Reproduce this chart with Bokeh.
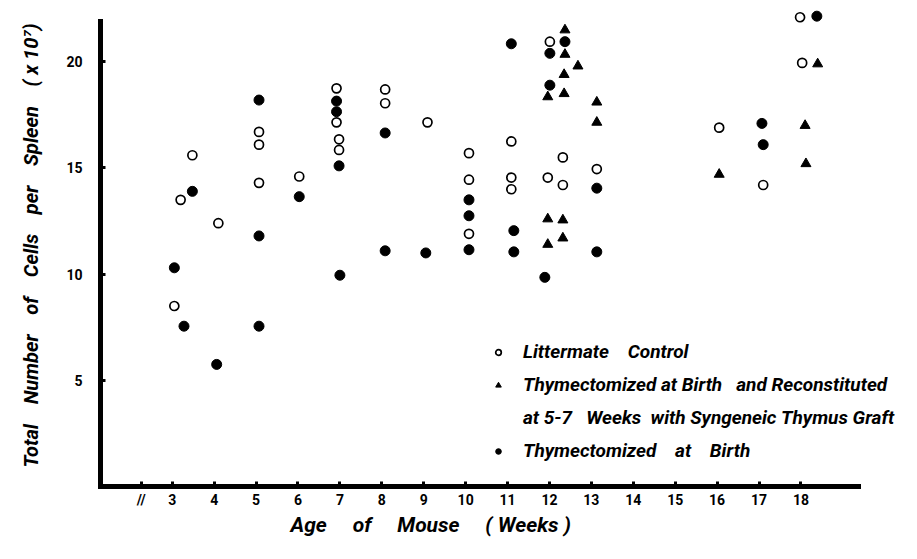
from bokeh.plotting import figure
from bokeh.models import Range1d, FixedTicker, Legend, LegendItem, Title
from bokeh.embed import file_html
from bokeh.resources import INLINE

FONT = "Roboto"
NB = "\u00a0"

# ---- data (age in weeks, total cells per spleen x 10^7) ----
control_week = [3.05, 3.2, 3.48, 4.1, 5.07, 5.07, 5.07, 6.03, 6.92, 6.92, 6.98, 6.98,
                8.08, 8.08, 9.09, 10.08, 10.08, 10.08, 11.09, 11.09, 11.09, 11.96,
                12.01, 12.32, 12.32, 13.13, 16.05, 17.1, 17.98, 18.03]
control_cells = [8.5, 13.5, 15.6, 12.4, 16.7, 16.1, 14.3, 14.6, 18.75, 17.15, 16.35, 15.85,
                 18.7, 18.05, 17.15, 15.7, 14.45, 11.9, 16.25, 14.55, 14.0, 14.55,
                 20.95, 15.5, 14.2, 14.95, 16.9, 14.2, 22.1, 19.95]

recon_week = [11.96, 11.96, 11.96, 12.32, 12.32, 12.35, 12.35, 12.37, 12.37, 12.68,
              13.13, 13.13, 16.05, 18.1, 18.12, 18.4]
recon_cells = [18.35, 12.6, 11.4, 12.55, 11.7, 18.5, 19.4, 20.35, 21.5, 19.8,
               18.1, 17.15, 14.7, 17.0, 15.2, 19.9]

thymex_week = [3.05, 3.28, 3.48, 4.06, 5.07, 5.07, 5.07, 6.03, 6.92, 6.92, 6.98, 7.0,
               8.08, 8.08, 9.05, 10.08, 10.08, 10.08, 11.09, 11.15, 11.15, 11.89,
               12.01, 12.01, 12.37, 13.13, 13.13, 17.07, 17.1, 18.38]
thymex_cells = [10.3, 7.55, 13.9, 5.75, 18.2, 11.8, 7.55, 13.65, 18.15, 17.65, 15.1, 9.95,
                16.65, 11.1, 11.0, 13.5, 12.75, 11.15, 20.85, 12.05, 11.05, 9.85,
                20.4, 18.9, 20.95, 14.05, 11.05, 17.1, 16.1, 22.15]

x_ticks = list(range(3, 19))
x_break = 2.26
y_ticks = [5, 10, 15, 20]

legend_labels = [
    "Littermate" + NB * 4 + "Control",
    "Thymectomized" + NB + "at" + NB + "Birth" + NB * 3 + "and" + NB + "Reconstituted",
    "at" + NB + "5-7" + NB * 3 + "Weeks" + NB * 2 + "with" + NB + "Syngeneic" + NB + "Thymus" + NB + "Graft",
    "Thymectomized" + NB * 4 + "at" + NB * 4 + "Birth",
]
y_title = (NB * 4).join(["Total", "Number", "of", "Cells", "per", "Spleen", "(" + NB + "x" + NB + "10\u2077)"])
x_title = (NB * 5).join(["Age", "of", "Mouse", "(" + NB + "Weeks" + NB + ")"])

p = figure(width=901, height=543, output_backend="svg", toolbar_location=None,
           x_range=Range1d(1.288, 20.4), y_range=Range1d(0, 22.7),
           min_border_left=100, min_border_right=0, min_border_top=4, min_border_bottom=57)
p.outline_line_color = None
p.grid.visible = False
p.background_fill_color = "white"

for ax in (p.xaxis[0], p.yaxis[0]):
    ax.axis_line_width = 5
    ax.axis_line_color = "black"
    ax.axis_line_cap = "square"
    ax.major_tick_in = 5
    ax.major_tick_out = 0
    ax.major_tick_line_width = 3
    ax.minor_tick_line_color = None
    ax.major_label_text_font = FONT
    ax.major_label_text_font_style = "bold"
    ax.major_label_text_font_size = "14px"
    ax.major_label_text_color = "black"
    ax.axis_label_text_font = FONT
    ax.axis_label_text_font_style = "bold italic"
    ax.axis_label_text_color = "black"

p.xaxis.ticker = FixedTicker(ticks=[x_break] + x_ticks)
p.xaxis.major_label_overrides = {x_break: "//"}
p.xaxis.bounds = (1.288, 19.38)
p.xaxis.major_label_standoff = 5

p.yaxis.ticker = FixedTicker(ticks=y_ticks)
p.yaxis.bounds = (0, 21.9)
p.yaxis.major_label_standoff = 18
p.yaxis.axis_label = y_title
p.yaxis.axis_label_text_font_size = "20px"
p.yaxis.axis_label_standoff = 20

p.add_layout(Title(text=x_title, align="left", offset=190, text_font=FONT,
                   text_font_style="bold italic", text_font_size="21px",
                   text_color="black", standoff=0), "below")

r_control = p.scatter(control_week, control_cells, marker="circle", size=9,
                      fill_color="white", line_color="black", line_width=1.7)
r_recon = p.scatter(recon_week, recon_cells, marker="triangle", size=10,
                    fill_color="black", line_color="black")
r_thymex = p.scatter(thymex_week, thymex_cells, marker="circle", size=10,
                     fill_color="black", line_color="black")

legend = Legend(items=[LegendItem(label=legend_labels[0], renderers=[r_control]),
                       LegendItem(label=legend_labels[1], renderers=[r_recon]),
                       LegendItem(label=legend_labels[2], renderers=[]),
                       LegendItem(label=legend_labels[3], renderers=[r_thymex])],
                location=(391, 24), background_fill_alpha=0, border_line_color=None,
                label_text_font=FONT, label_text_font_style="bold italic",
                label_text_font_size="19px", label_text_color="black",
                glyph_width=14, glyph_height=14, label_standoff=18, spacing=10,
                label_height=21, padding=0, margin=0)
p.add_layout(legend)

open("out.html", "w").write(file_html(p, INLINE))
